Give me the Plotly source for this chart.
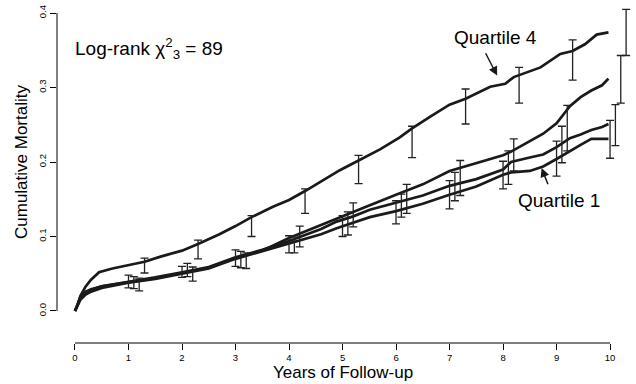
import plotly.graph_objects as go

# ---- data ----
t_q4 = [0, 0.05, 0.1, 0.2, 0.3, 0.45, 0.7, 1.0, 1.3, 1.6, 2.0, 2.3, 2.7, 3.0, 3.3, 3.7, 4.0, 4.3,
        4.65, 4.95, 5.3, 5.7, 6.07, 6.3, 6.64, 7.0, 7.3, 7.76, 8.04, 8.2, 8.7, 9.07, 9.3, 9.53, 9.75, 9.97]
q4 = [0, 0.008, 0.02, 0.033, 0.042, 0.052, 0.057, 0.062, 0.066, 0.073, 0.081, 0.09, 0.103, 0.114,
      0.126, 0.140, 0.149, 0.161, 0.176, 0.189, 0.202, 0.217, 0.233, 0.245, 0.261, 0.277, 0.285,
      0.301, 0.305, 0.314, 0.327, 0.345, 0.349, 0.358, 0.371, 0.374]

t_low = [0, 0.05, 0.1, 0.2, 0.3, 0.5, 0.75, 1.0, 1.5, 2.0, 2.5, 3.0, 3.5, 4.0, 4.27, 4.6, 4.89,
         5.2, 5.51, 6.0, 6.5, 7.0, 7.5, 8.0, 8.15, 8.5, 8.75, 9.0, 9.25, 9.45, 9.65, 9.85, 9.97]
q1 = [0, 0.008, 0.015, 0.022, 0.026, 0.031, 0.035, 0.038, 0.043, 0.050, 0.057, 0.070, 0.080,
      0.090, 0.096, 0.103, 0.111, 0.118, 0.126, 0.134, 0.144, 0.156, 0.167, 0.183, 0.186, 0.188,
      0.194, 0.204, 0.215, 0.223, 0.231, 0.231, 0.231]
q2 = [0, 0.009, 0.017, 0.024, 0.028, 0.033, 0.036, 0.039, 0.045, 0.052, 0.059, 0.072, 0.082,
      0.094, 0.101, 0.110, 0.120, 0.127, 0.136, 0.145, 0.155, 0.168, 0.177, 0.190, 0.200, 0.206,
      0.210, 0.220, 0.232, 0.237, 0.243, 0.247, 0.251]
q3 = [0, 0.010, 0.018, 0.026, 0.029, 0.033, 0.036, 0.038, 0.044, 0.051, 0.058, 0.071, 0.081,
      0.098, 0.106, 0.115, 0.124, 0.133, 0.142, 0.156, 0.170, 0.188, 0.198, 0.209, 0.214, 0.228,
      0.238, 0.252, 0.275, 0.287, 0.296, 0.303, 0.312]

# confidence bars (time, lower, upper)
bar_t_q1 = [1.0, 2.0, 3.0, 4.0, 5.0, 6.0, 7.0, 8.0, 9.0, 10.0]
bar_lo_q1 = [0.031, 0.045, 0.060, 0.078, 0.100, 0.117, 0.137, 0.164, 0.181, 0.205]
bar_hi_q1 = [0.048, 0.060, 0.082, 0.101, 0.128, 0.148, 0.175, 0.201, 0.228, 0.256]

bar_t_q2 = [1.1, 2.1, 3.1, 4.1, 5.1, 6.1, 7.1, 8.1, 9.1, 10.1]
bar_lo_q2 = [0.030, 0.046, 0.058, 0.078, 0.102, 0.126, 0.148, 0.170, 0.199, 0.222]
bar_hi_q2 = [0.046, 0.064, 0.080, 0.101, 0.133, 0.157, 0.186, 0.215, 0.248, 0.277]

bar_t_q3 = [1.2, 2.2, 3.2, 4.2, 5.2, 6.2, 7.2, 8.2, 9.2, 10.2]
bar_lo_q3 = [0.027, 0.040, 0.057, 0.086, 0.113, 0.131, 0.155, 0.188, 0.215, 0.279]
bar_hi_q3 = [0.044, 0.059, 0.078, 0.114, 0.145, 0.170, 0.202, 0.231, 0.276, 0.343]

bar_t_q4 = [1.3, 2.3, 3.3, 4.3, 5.3, 6.3, 7.3, 8.3, 9.3, 10.3]
bar_lo_q4 = [0.051, 0.070, 0.100, 0.131, 0.171, 0.206, 0.251, 0.279, 0.310, 0.343]
bar_hi_q4 = [0.071, 0.095, 0.128, 0.164, 0.209, 0.248, 0.298, 0.327, 0.364, 0.405]

x_ticks = list(range(0, 11))
y_ticks = [0.0, 0.1, 0.2, 0.3, 0.4]

FONT = "Liberation Sans, Arial, sans-serif"
INK = "#1a1a1a"

L, R, T, B = 57, 4, 2, 41
PLOT_W = 636 - L - R
PLOT_H = 384 - T - B

fig = go.Figure()

for tt, yy in [(t_low, q1), (t_low, q2), (t_low, q3), (t_q4, q4)]:
    fig.add_trace(go.Scatter(x=tt, y=yy, mode="lines",
                             line=dict(color=INK, width=2.7), hoverinfo="skip",
                             showlegend=False))

for bt, lo, hi in [(bar_t_q1, bar_lo_q1, bar_hi_q1), (bar_t_q2, bar_lo_q2, bar_hi_q2),
                   (bar_t_q3, bar_lo_q3, bar_hi_q3), (bar_t_q4, bar_lo_q4, bar_hi_q4)]:
    mid = [(a + b) / 2 for a, b in zip(lo, hi)]
    fig.add_trace(go.Scatter(
        x=bt, y=mid, mode="markers",
        marker=dict(size=1, color="rgba(0,0,0,0)"),
        error_y=dict(type="data", symmetric=False,
                     array=[h - m for h, m in zip(hi, mid)],
                     arrayminus=[m - l for m, l in zip(mid, lo)],
                     color="#222222", thickness=1.3, width=4),
        showlegend=False, hoverinfo="skip"))

# detached axis lines (R style)
fig.add_shape(type="line", xref="x", yref="paper", x0=0, x1=10, y0=0, y1=0,
              line=dict(color="black", width=1))
fig.add_shape(type="line", xref="paper", yref="y", x0=0, x1=0, y0=0, y1=0.4,
              line=dict(color="black", width=1))

fig.add_annotation(x=-0.04, y=0.353, xref="x", yref="y", xanchor="left", yanchor="middle",
                   text="Log-rank χ<sup>2</sup><sub>3</sub> = 89", showarrow=False,
                   font=dict(family=FONT, size=19, color="black"))

fig.add_annotation(x=7.85, y=0.367, xref="x", yref="y", text="Quartile 4", showarrow=False,
                   font=dict(family=FONT, size=19, color="black"))
fig.add_annotation(x=7.89, y=0.316, ax=7.66, ay=0.348, xref="x", yref="y", axref="x", ayref="y",
                   text="", showarrow=True, arrowhead=2, arrowsize=1.2, arrowwidth=1.5,
                   arrowcolor=INK)

fig.add_annotation(x=9.04, y=0.148, xref="x", yref="y", text="Quartile 1", showarrow=False,
                   font=dict(family=FONT, size=19, color="black"))
fig.add_annotation(x=8.72, y=0.192, ax=8.85, ay=0.168, xref="x", yref="y", axref="x", ayref="y",
                   text="", showarrow=True, arrowhead=2, arrowsize=1.2, arrowwidth=1.5,
                   arrowcolor=INK)

fig.add_annotation(x=(21 - L) / PLOT_W, y=0.2, xref="paper", yref="y", text="Cumulative Mortality",
                   showarrow=False, textangle=-90, xanchor="center", yanchor="middle",
                   font=dict(family=FONT, size=17, color="black"))
fig.add_annotation(x=5, y=-(372 - (384 - B)) / PLOT_H, xref="x", yref="paper",
                   text="Years of Follow-up",
                   showarrow=False, yanchor="middle", xanchor="center",
                   font=dict(family=FONT, size=17, color="black"))

fig.update_layout(
    width=636, height=384,
    margin=dict(l=L, r=R, t=T, b=B),
    paper_bgcolor="white", plot_bgcolor="white",
    font=dict(family=FONT, color="black"),
    xaxis=dict(range=[-0.336, 10.41], tickvals=x_ticks, ticktext=[str(v) for v in x_ticks],
               showgrid=False, zeroline=False, showline=False, ticks="outside",
               ticklen=6, tickwidth=1, tickcolor="black", automargin=False,
               tickfont=dict(family=FONT, size=9.5, color="black")),
    yaxis=dict(range=[-0.043, 0.4148], tickvals=y_ticks, ticktext=["0.0", "0.1", "0.2", "0.3", "0.4"],
               showgrid=False, zeroline=False, showline=False, ticks="outside",
               ticklen=6, tickwidth=1, tickcolor="black", tickangle=-90, automargin=False,
               tickfont=dict(family=FONT, size=9.5, color="black")),
)

fig.write_html("out.html",
               config={"displayModeBar": False},
               post_script="document.body.style.margin='0';document.body.style.overflow='hidden';")
